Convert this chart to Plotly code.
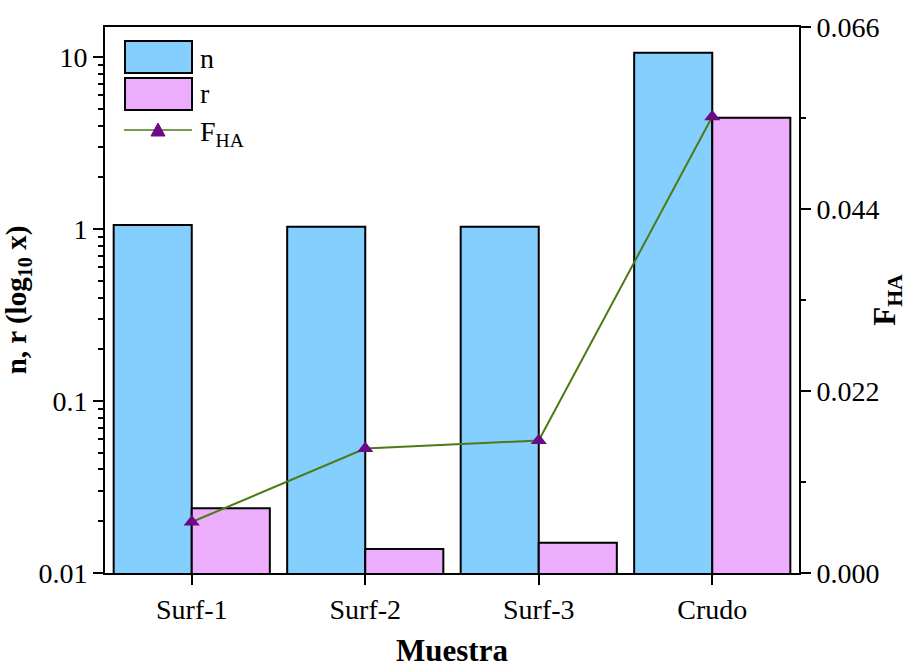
import plotly.graph_objects as go

# Sample categories and measured values
muestras = ["Surf-1", "Surf-2", "Surf-3", "Crudo"]
n_vals = [1.055, 1.033, 1.033, 10.6]
r_vals = [0.0238, 0.0138, 0.0150, 4.44]
fha_vals = [0.00616, 0.01505, 0.01602, 0.05516]

left_ticks = [0.01, 0.1, 1, 10]
left_ticktext = ["0.01", "0.1", "1", "10"]
right_ticks = [0.0, 0.022, 0.044, 0.066]
right_ticktext = ["0.000", "0.022", "0.044", "0.066"]

FONT = "Liberation Serif, Times New Roman, serif"
C_N = "#85CFFF"
C_R = "#ECAEFC"
C_LINE = "#4E7A14"
C_MARK = "#6B0A86"

fig = go.Figure()
fig.add_trace(go.Bar(x=muestras, y=n_vals, name="n", marker=dict(color=C_N, line=dict(color="black", width=2)),
                     showlegend=False))
fig.add_trace(go.Bar(x=muestras, y=r_vals, name="r", marker=dict(color=C_R, line=dict(color="black", width=2)),
                     showlegend=False))
fig.add_trace(go.Scatter(x=muestras, y=fha_vals, name="F<sub>HA</sub>", yaxis="y2", mode="lines+markers",
                         line=dict(color=C_LINE, width=2),
                         marker=dict(symbol="triangle-up", size=14, color=C_MARK),
                         showlegend=False))

minor_left = [m * 10 ** e for e in (-2, -1, 0, 1) for m in range(2, 10) if m * 10 ** e < 15]

# Plot area in pixels: x 105..799, y 27..573
L, R, T, B = 105, 799, 27, 573
W, H = 907, 668


def px(x):
    return (x - L) / (R - L)


def py(y):
    return (B - y) / (B - T)


shapes = [
    dict(type="rect", xref="paper", yref="paper", x0=px(125), x1=px(192), y0=py(73), y1=py(41),
         fillcolor=C_N, line=dict(color="black", width=2)),
    dict(type="rect", xref="paper", yref="paper", x0=px(125), x1=px(192), y0=py(110), y1=py(78),
         fillcolor=C_R, line=dict(color="black", width=2)),
    dict(type="line", xref="paper", yref="paper", x0=px(124), x1=px(192), y0=py(130), y1=py(130),
         line=dict(color=C_LINE, width=1.5)),
    dict(type="path", xref="paper", yref="paper",
         path=f"M {px(151)} {py(136)} L {px(165)} {py(136)} L {px(158)} {py(123)} Z",
         fillcolor=C_MARK, line=dict(color=C_MARK, width=1)),
]
annotations = [
    dict(xref="paper", yref="paper", x=px(198), y=py(58), text="n", showarrow=False, xanchor="left",
         yanchor="middle", font=dict(family=FONT, size=28, color="black")),
    dict(xref="paper", yref="paper", x=px(198), y=py(93), text="r", showarrow=False, xanchor="left",
         yanchor="middle", font=dict(family=FONT, size=28, color="black")),
    dict(xref="paper", yref="paper", x=px(198), y=py(133), text="F<sub>HA</sub>", showarrow=False,
         xanchor="left", yanchor="middle", font=dict(family=FONT, size=28, color="black")),
]

fig.update_layout(
    width=W, height=H,
    margin=dict(l=L, r=W - R, t=T, b=H - B, autoexpand=False),
    paper_bgcolor="white", plot_bgcolor="white",
    font=dict(family=FONT, size=28, color="black"),
    barmode="group", bargap=0.1, bargroupgap=0,
    shapes=shapes, annotations=annotations,
    xaxis=dict(
        type="category", range=[-0.5, 3.5], automargin=False,
        showline=True, linecolor="black", linewidth=2, mirror=True,
        ticks="outside", ticklen=10, tickwidth=2, tickcolor="black",
        showgrid=False, zeroline=False,
        tickfont=dict(family=FONT, size=28),
        title=dict(text="<b>Muestra</b>", font=dict(family=FONT, size=31), standoff=22),
    ),
    yaxis=dict(
        type="log", range=[-2, 1.175], automargin=False,
        showline=True, linecolor="black", linewidth=2,
        ticks="outside", ticklen=10, tickwidth=2, tickcolor="black",
        tickvals=left_ticks, ticktext=left_ticktext,
        minor=dict(tickvals=minor_left, ticks="outside", ticklen=5, tickwidth=2, tickcolor="black", showgrid=False),
        showgrid=False, zeroline=False,
        tickfont=dict(family=FONT, size=28),
        title=dict(text="<b>n, r (log<sub>10</sub> x)</b>", font=dict(family=FONT, size=29), standoff=8),
    ),
    yaxis2=dict(
        overlaying="y", side="right", range=[0, 0.066], automargin=False,
        showline=True, linecolor="black", linewidth=2,
        ticks="outside", ticklen=10, tickwidth=2, tickcolor="black",
        tickvals=right_ticks, ticktext=right_ticktext,
        minor=dict(tickvals=[0.011, 0.033, 0.055], ticks="outside", ticklen=5, tickwidth=2, tickcolor="black",
                   showgrid=False),
        showgrid=False, zeroline=False,
        tickfont=dict(family=FONT, size=28),
        title=dict(text="<b>F<sub>HA</sub></b>", font=dict(family=FONT, size=31), standoff=8),
    ),
)

fig.write_html("out.html")
